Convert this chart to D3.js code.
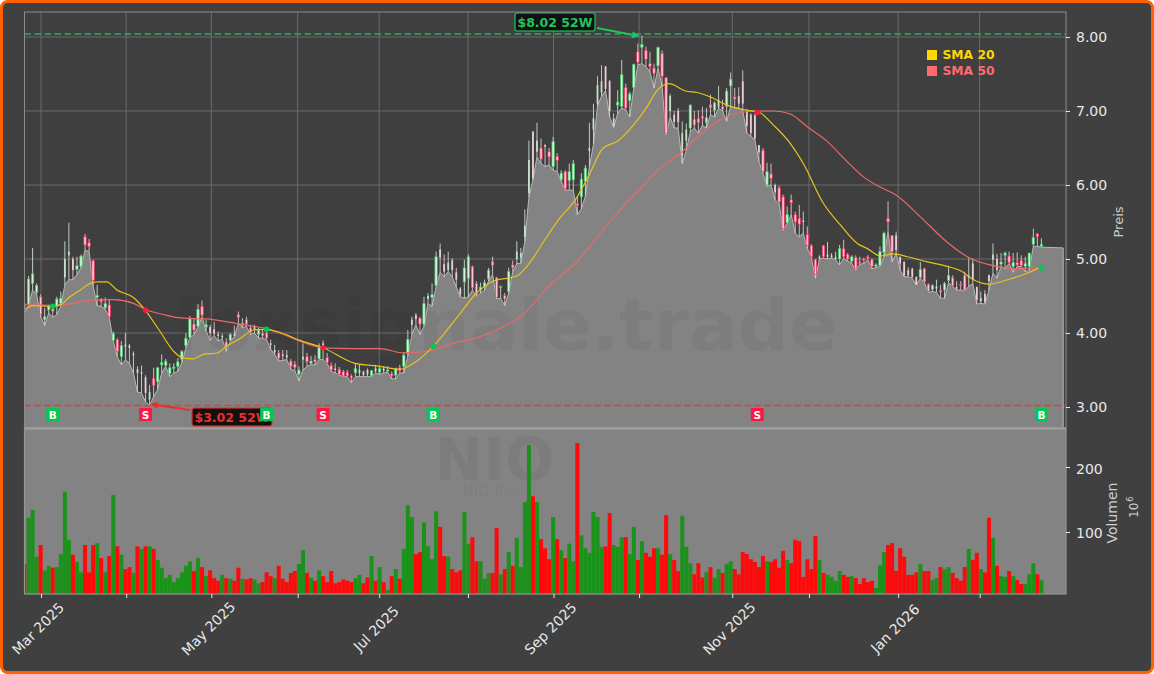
<!DOCTYPE html>
<html><head><meta charset="utf-8">
<script src="https://cdn.jsdelivr.net/npm/d3@7/dist/d3.min.js"></script>
<style>html,body{margin:0;padding:0;background:#fff}svg{display:block}text{font-family:"DejaVu Sans",sans-serif}</style>
</head><body><div id="c"></div>
<script>
const opens=[
4.40,4.39,4.67,4.55,4.49,4.18,4.31,4.36,4.36,4.40,
4.75,5.05,5.00,4.86,4.90,5.30,5.22,4.98,4.48,4.46,
4.34,4.38,3.90,3.91,3.68,3.84,3.83,3.70,3.51,3.45,
3.40,3.10,3.39,3.34,3.57,3.56,3.45,3.52,3.55,3.64,
3.83,3.94,4.12,4.09,4.36,4.08,4.08,4.05,3.98,3.94,
3.88,3.90,3.98,4.25,4.10,4.18,4.07,4.05,3.98,4.00,
4.00,3.86,3.74,3.73,3.71,3.70,3.62,3.58,3.44,3.64,
3.68,3.59,3.64,3.65,3.86,3.67,3.56,3.52,3.51,3.48,
3.47,3.42,3.46,3.46,3.48,3.50,3.42,3.52,3.47,3.52,
3.48,3.45,3.43,3.53,3.55,3.73,4.11,4.24,4.20,4.12,
4.46,4.48,4.64,5.13,4.93,4.85,4.98,4.82,4.60,4.69,
4.74,4.90,4.67,4.57,4.62,4.73,4.97,4.75,4.62,4.51,
4.56,4.92,5.00,5.02,5.30,5.89,6.72,6.45,6.50,6.54,
6.45,6.25,6.39,6.07,6.18,6.06,6.07,5.75,5.84,6.05,
6.46,6.75,7.10,7.25,7.60,7.40,6.80,7.08,7.06,7.32,
7.14,7.32,7.80,7.86,7.82,7.64,7.58,7.61,7.78,7.45,
7.00,6.95,7.00,6.40,6.60,6.77,6.89,6.90,6.93,6.84,
7.09,7.01,7.05,7.06,7.06,7.34,7.19,7.20,7.40,7.00,
6.95,6.94,6.54,6.47,6.00,6.15,6.00,5.96,5.84,5.49,
5.80,5.60,5.55,5.52,5.33,5.18,4.99,5.01,5.18,5.03,
5.02,5.00,5.00,5.14,5.06,4.97,5.02,4.96,5.00,5.03,
4.99,4.90,4.91,5.09,5.55,5.32,5.32,5.03,4.96,4.85,
4.87,4.76,4.75,4.87,4.66,4.59,4.60,4.58,4.58,4.71,
4.75,4.62,4.66,4.78,4.75,4.94,4.62,4.43,4.53,4.78,
4.99,5.00,4.93,5.05,5.04,4.90,4.95,4.98,4.90,4.90,
5.20,5.34,5.17];
const highs=[
4.45,4.77,5.15,4.67,4.52,4.34,4.38,4.39,4.49,4.56,
5.24,5.49,5.03,5.03,5.06,5.34,5.27,4.99,4.65,4.47,
4.48,4.45,4.02,3.93,3.89,4.00,3.85,3.75,3.55,3.56,
3.43,3.30,3.53,3.54,3.71,3.65,3.59,3.59,3.66,3.77,
4.00,4.23,4.20,4.39,4.44,4.18,4.11,4.15,4.02,3.99,
3.93,4.00,4.10,4.29,4.20,4.22,4.11,4.11,4.07,4.04,
4.07,3.91,3.84,3.77,3.77,3.77,3.65,3.62,3.55,3.86,
3.73,3.69,3.70,3.86,3.90,3.73,3.60,3.59,3.54,3.50,
3.50,3.44,3.59,3.58,3.49,3.52,3.50,3.57,3.54,3.55,
3.55,3.48,3.53,3.57,3.74,4.04,4.22,4.27,4.22,4.49,
4.54,4.67,5.10,5.21,5.06,5.10,5.01,4.88,4.62,4.99,
5.06,4.91,4.70,4.68,4.72,4.88,5.03,4.76,4.64,4.54,
4.88,4.98,5.24,5.15,5.67,6.60,6.73,6.84,6.63,6.55,
6.50,6.65,6.43,6.20,6.20,6.29,6.34,5.84,6.16,6.27,
6.84,7.10,7.47,7.62,7.61,7.42,6.97,7.28,7.69,7.37,
7.26,7.64,7.91,8.02,7.87,7.80,7.64,7.87,7.82,7.46,
7.23,7.00,7.04,6.86,6.83,7.09,7.00,7.01,7.06,7.04,
7.22,7.13,7.34,7.15,7.31,7.52,7.31,7.32,7.55,7.03,
6.97,6.97,6.54,6.50,6.30,6.29,6.02,5.99,5.87,5.71,
5.87,5.64,5.73,5.64,5.44,5.20,5.00,5.05,5.19,5.23,
5.08,5.10,5.19,5.26,5.08,5.05,5.05,5.03,5.02,5.05,
5.01,4.94,5.17,5.37,5.78,5.32,5.37,5.03,4.97,4.89,
4.88,4.76,4.96,4.88,4.67,4.66,4.72,4.65,4.69,4.90,
4.78,4.70,4.70,4.83,5.01,5.01,4.63,4.56,4.58,4.79,
5.21,5.07,5.08,5.10,5.10,5.08,5.09,5.05,5.03,5.08,
5.41,5.35,5.28];
const lows=[
4.27,4.37,4.58,4.52,4.22,4.10,4.27,4.21,4.25,4.36,
4.65,4.72,4.72,4.79,4.88,5.12,5.10,4.64,4.37,4.36,
4.32,4.21,3.89,3.68,3.57,3.64,3.59,3.46,3.20,3.19,
3.07,3.02,3.14,3.24,3.46,3.55,3.41,3.46,3.48,3.60,
3.80,3.93,3.98,4.08,4.22,4.03,3.90,3.97,3.89,3.92,
3.75,3.89,3.95,4.13,4.07,4.09,3.98,4.00,3.93,3.93,
3.91,3.78,3.71,3.62,3.63,3.64,3.51,3.49,3.35,3.50,
3.55,3.57,3.57,3.64,3.64,3.59,3.48,3.46,3.43,3.41,
3.41,3.33,3.41,3.41,3.41,3.41,3.41,3.46,3.44,3.46,
3.47,3.38,3.38,3.46,3.46,3.69,3.98,4.11,3.98,4.09,
4.40,4.36,4.63,4.82,4.76,4.83,4.76,4.62,4.49,4.47,
4.49,4.58,4.49,4.54,4.58,4.70,4.79,4.46,4.47,4.37,
4.54,4.83,4.94,4.94,5.24,5.84,6.07,6.38,6.29,6.25,
6.27,6.20,6.18,6.05,5.93,5.93,5.93,5.60,5.68,5.85,
6.25,6.55,7.07,7.20,7.28,6.92,6.78,6.97,7.04,7.01,
6.92,7.31,7.62,7.64,7.60,7.53,7.31,7.58,7.33,6.68,
6.92,6.77,6.77,6.29,6.47,6.72,6.77,6.70,6.81,6.77,
6.95,6.92,7.04,7.00,6.86,7.06,7.04,7.04,7.01,6.70,
6.66,6.61,6.32,6.16,5.98,6.00,5.80,5.75,5.39,5.48,
5.60,5.35,5.30,5.35,5.14,5.02,4.74,5.00,5.01,5.00,
5.01,4.99,4.92,5.01,4.97,4.94,4.85,4.93,4.94,4.99,
4.87,4.88,4.90,5.03,5.37,4.96,5.08,4.85,4.76,4.76,
4.74,4.65,4.74,4.68,4.55,4.56,4.55,4.47,4.47,4.68,
4.63,4.58,4.58,4.57,4.63,4.67,4.39,4.40,4.39,4.58,
4.81,4.74,4.90,4.87,4.94,4.82,4.90,4.90,4.83,4.85,
5.17,5.17,5.16];
const closes=[
4.35,4.73,4.80,4.64,4.25,4.22,4.36,4.29,4.46,4.47,
5.00,5.10,4.85,4.91,5.04,5.19,5.17,4.71,4.51,4.42,
4.40,4.22,3.99,3.75,3.83,3.82,3.80,3.72,3.46,3.47,
3.19,3.20,3.29,3.53,3.60,3.62,3.53,3.54,3.61,3.75,
3.93,4.19,4.04,4.32,4.24,4.11,4.00,3.99,3.96,3.96,
3.82,3.98,3.96,4.21,4.13,4.12,4.00,4.08,4.04,3.96,
3.93,3.84,3.77,3.66,3.69,3.67,3.55,3.53,3.50,3.68,
3.61,3.62,3.61,3.80,3.79,3.60,3.50,3.50,3.44,3.42,
3.42,3.39,3.52,3.50,3.43,3.44,3.49,3.48,3.52,3.49,
3.50,3.42,3.52,3.49,3.70,3.91,4.18,4.19,4.12,4.40,
4.50,4.52,5.03,5.02,4.83,4.95,4.85,4.72,4.52,4.88,
5.03,4.61,4.50,4.62,4.68,4.85,4.91,4.48,4.63,4.46,
4.83,4.88,5.10,5.08,5.45,6.34,6.09,6.60,6.35,6.52,
6.38,6.59,6.33,6.16,5.95,6.18,6.29,5.72,6.08,6.23,
6.50,6.90,7.35,7.40,7.30,7.00,6.90,7.12,7.49,7.04,
7.23,7.63,7.66,7.90,7.70,7.60,7.51,7.86,7.47,6.70,
7.20,6.85,6.85,6.70,6.75,7.08,6.81,6.84,6.90,6.91,
7.04,7.11,7.15,7.02,7.27,7.43,7.16,7.10,7.10,6.80,
6.70,6.63,6.44,6.18,6.18,6.09,5.90,5.77,5.41,5.60,
5.76,5.50,5.47,5.50,5.18,5.03,4.79,5.03,5.03,5.06,
5.05,5.03,5.14,5.03,5.00,5.03,4.87,4.94,4.98,5.01,
4.90,4.92,5.10,5.35,5.50,5.10,5.12,4.94,4.78,4.78,
4.76,4.65,4.86,4.69,4.56,4.64,4.63,4.55,4.67,4.78,
4.64,4.60,4.64,4.58,4.78,4.72,4.45,4.47,4.42,4.70,
5.06,4.85,4.96,5.08,4.95,4.95,4.92,4.91,4.94,5.08,
5.29,5.30,5.20];
const volumes=[
51,122,134,62,80,41,48,45,46,66,
162,88,65,54,38,80,38,80,83,60,
38,63,157,78,65,43,46,37,78,74,
78,78,74,57,45,29,34,23,29,38,
48,55,40,60,46,32,41,29,25,34,
29,28,25,45,28,27,29,27,21,23,
38,32,29,48,28,23,37,40,51,72,
37,30,25,41,32,23,40,21,23,27,
25,23,29,34,21,30,63,25,46,23,
11,32,43,28,74,141,123,66,69,115,
78,58,132,108,63,62,43,38,41,131,
82,92,55,55,28,37,37,106,35,43,
69,48,91,46,146,234,155,146,89,75,
58,123,89,72,60,82,55,237,95,75,
68,131,123,77,78,129,80,77,92,92,
66,108,57,86,68,62,75,75,65,126,
66,57,40,125,77,52,35,52,30,38,
46,30,43,37,51,55,43,35,69,66,
58,54,46,63,55,54,58,45,71,57,
52,88,86,31,58,43,94,57,37,34,
31,25,40,34,31,32,29,20,29,23,
25,14,49,69,80,83,40,75,62,34,
34,38,51,40,40,26,29,46,43,46,
37,29,25,46,74,57,68,43,38,122,
91,48,32,31,40,32,26,20,20,35,
52,35,26];
const paleCandles=[10,11,12,25,26,27,28,29,30,31,46,47,48,49,52,57,61,62,64,65,69,74,77,83,84,85,87,89,96,97,100,103,104,105,106,107,108,122,123,124,125,126,127,129,140,141,142,143,144,145,146,160,161,162,163,164,172,177,178,179,180,181,182,186,193,197,199,200,201,216,217,218,219,220,221,226,231,234,235,236,237,238,239,240,241];
const sma20Index=[0,2.2,6.3,8.8,11.3,13.8,16.3,18.3,20.4,22.9,27,29.9,33.6,37,39.4,41.8,44.3,47.7,50.1,53.5,56.7,59.2,62.6,68.3,74,81.9,88.1,93,96.4,101.3,107.2,111.7,116.1,122,124.5,129.2,132.3,136.5,139.7,143.4,146.9,150.9,154.3,156.8,159.8,163.8,166.7,170,174.1,179.1,181.8,185.6,189.8,193,198,202.2,206.4,208.9,212.1,215.4,218.8,223.8,228.7,232,235.2,239,243.6,248.6,251.4];
const sma20Value=[4.32,4.37,4.36,4.38,4.49,4.58,4.67,4.69,4.69,4.58,4.48,4.31,4.02,3.75,3.66,3.65,3.71,3.73,3.82,3.93,4.04,4.05,4.02,3.90,3.80,3.59,3.55,3.51,3.59,3.82,4.21,4.52,4.70,4.77,4.90,5.28,5.53,5.80,6.11,6.50,6.59,6.81,7.06,7.28,7.37,7.27,7.25,7.19,7.08,7.01,6.99,6.81,6.56,6.29,5.75,5.46,5.21,5.14,5.04,5.07,5.03,4.96,4.90,4.84,4.72,4.66,4.72,4.81,4.88];
const sma50Index=[0,3.9,8,12,16.3,22,27,30.3,34.4,39.4,45.2,50.2,56.7,60,64.2,68.3,74,81.4,88.1,93.9,100.5,106.3,113,119.6,123.6,129.5,137.7,141.4,146.9,152.6,157.5,163,167.4,172.4,176.6,181.8,185.6,189.8,193.9,198.9,203.8,207.9,212.1,215.8,222,228.6,234.3,239.3,245,251.4];
const sma50Value=[4.38,4.38,4.37,4.40,4.44,4.45,4.40,4.31,4.25,4.20,4.19,4.15,4.09,4.06,3.98,3.89,3.80,3.79,3.79,3.73,3.76,3.86,3.95,4.11,4.25,4.61,5.01,5.26,5.62,5.95,6.23,6.45,6.68,6.88,6.97,7.00,7.00,6.96,6.79,6.59,6.32,6.11,5.97,5.87,5.57,5.23,5.01,4.92,4.87,4.88];
const signalIndex=[7,30,60,74,101.3,181.6,252];
const signalPrice=[4.36,4.31,4.05,3.80,3.82,6.98,4.88];
const signalType=["B","S","B","S","B","S","B"];
const monthTickIndex=[4.1,25.2,46.3,67.7,87.9,109.9,131.1,152.3,175.4,194.4,216.5,236.7];
const monthTickLabels=["Mar 2025","","May 2025","","Jul 2025","","Sep 2025","","Nov 2025","","Jan 2026",""];
const priceTicks=[3,4,5,6,7,8];
const volumeTicks=[100,200];
const high52=8.02, low52=3.02, high52Line=8.04;
const areaTailIndex=257.4, areaTailValue=5.15;
const legendNames=["SMA 20","SMA 50"];

const W=1154,H=674;
const L=24.5,R=1066,PT=12,PB=428,VT=429,VB=594;
const x=d3.scaleLinear().domain([0,258.1]).range([L,R]);
const y=d3.scaleLinear().domain([2.716,8.338]).range([PB,PT]);
const yV=d3.scaleLinear().domain([4.6,258.5]).range([VB,VT]);
const C={bg:"#404040",gray:"#838383",up:"#1b931b",dn:"#fe0a0a",sma20:"#e6c41c",sma50:"#e86a6a",
 green:"#00c853",red:"#ff1744",txt:"#e8e8e8",grid:"#6b6b6b",frame:"#8c8c8c"};

const svg=d3.select("#c").append("svg").attr("width",W).attr("height",H).attr("viewBox",`0 0 ${W} ${H}`);
svg.append("rect").attr("x",1.5).attr("y",1.5).attr("width",W-3).attr("height",H-3).attr("rx",6)
 .attr("fill",C.bg).attr("stroke","#ff6000").attr("stroke-width",3);
const defs=svg.append("defs");
defs.append("clipPath").attr("id","cp").append("rect").attr("x",L).attr("y",PT).attr("width",R-L).attr("height",PB-PT);
defs.append("clipPath").attr("id","cv").append("rect").attr("x",L).attr("y",VT).attr("width",R-L).attr("height",VB-VT);

const paleSet=new Set(paleCandles);
const bars=d3.range(opens.length).map(i=>({i,o:opens[i],h:highs[i],l:lows[i],c:closes[i],v:volumes[i],up:closes[i]>=opens[i],pale:paleSet.has(i)}));

// price panel
svg.append("rect").attr("x",L).attr("y",PT).attr("width",R-L).attr("height",PB-PT).attr("fill","#3f3f3f");
const grid=svg.append("g").attr("stroke",C.grid).attr("stroke-width",1);
grid.selectAll(".gx").data(monthTickIndex).join("line").attr("x1",d=>x(d)).attr("x2",d=>x(d)).attr("y1",PT).attr("y2",PB);
grid.selectAll(".gy").data(priceTicks).join("line").attr("x1",L).attr("x2",R).attr("y1",d=>y(d)).attr("y2",d=>y(d));

const price=svg.append("g").attr("clip-path","url(#cp)");
const areaData=bars.map(b=>[b.i,b.l]).concat([[areaTailIndex,areaTailValue]]);
price.append("path").datum(areaData)
 .attr("d",d3.area().x(d=>x(d[0])).y0(PB+2).y1(d=>y(d[1])))
 .attr("fill",C.gray);
price.append("path").datum(areaData.concat([[areaTailIndex,2.7]]))
 .attr("d",d3.line().x(d=>x(d[0])).y(d=>y(d[1])))
 .attr("fill","none").attr("stroke","#b8b8b8").attr("stroke-width",1);
// watermark
price.append("text").attr("x",838).attr("y",350).attr("text-anchor","end")
 .attr("font-size",72).attr("font-weight","bold").attr("fill","#000").attr("fill-opacity",.04)
 .text("foxsignale.trade");
// candles
const cg=price.append("g");
cg.selectAll(".w").data(bars).join("line").attr("x1",d=>x(d.i)).attr("x2",d=>x(d.i))
 .attr("y1",d=>y(d.h)).attr("y2",d=>y(d.l))
 .attr("stroke",d=>d.up?"#c9ddcd":"#dfc9ce").attr("stroke-width",.9);
cg.selectAll(".b").data(bars).join("rect")
 .attr("x",d=>x(d.i)-(d.pale?0.9:1.2)).attr("width",d=>d.pale?1.8:2.4)
 .attr("y",d=>y(Math.max(d.o,d.c))).attr("height",d=>Math.max(1,Math.abs(y(d.o)-y(d.c))))
 .attr("fill",d=>d.pale?(d.up?"#c4e0ca":"#eccdd5"):(d.up?"#d6f0d8":"#ffc4d0"))
 .attr("stroke",d=>d.pale?"none":(d.up?"#3cc063":"#f0305f")).attr("stroke-width",.7);
// SMA
const ln=d3.line().x(d=>x(d[0])).y(d=>y(d[1])).curve(d3.curveMonotoneX);
price.append("path").attr("d",ln(sma50Index.map((d,i)=>[d,sma50Value[i]]))).attr("fill","none").attr("stroke",C.sma50).attr("stroke-width",1.2);
price.append("path").attr("d",ln(sma20Index.map((d,i)=>[d,sma20Value[i]]))).attr("fill","none").attr("stroke",C.sma20).attr("stroke-width",1.2);
// 52W lines
price.append("line").attr("x1",L).attr("x2",R).attr("y1",y(high52Line)).attr("y2",y(high52Line))
 .attr("stroke","#35a866").attr("stroke-width",1.5).attr("stroke-dasharray","6.5 3.5");
price.append("line").attr("x1",L).attr("x2",R).attr("y1",y(low52)).attr("y2",y(low52))
 .attr("stroke","#e53935").attr("stroke-opacity",.9).attr("stroke-width",1.5).attr("stroke-dasharray","6.5 3.5");
// annotations
function note(txt,idxPeak,val,bx,by,col,tailx,taily){
 const tx=x(idxPeak),ty=y(val);
 const ang=Math.atan2(ty-taily,tx-tailx),hl=8,hw=3.5;
 const sx=tx-hl*Math.cos(ang),sy=ty-hl*Math.sin(ang);
 svg.append("line").attr("x1",tailx).attr("y1",taily).attr("x2",sx).attr("y2",sy).attr("stroke",col).attr("stroke-width",2);
 svg.append("path").attr("d",`M${tx},${ty}L${sx-hw*Math.sin(ang)},${sy+hw*Math.cos(ang)}L${sx+hw*Math.sin(ang)},${sy-hw*Math.cos(ang)}Z`).attr("fill",col);
 svg.append("rect").attr("x",bx).attr("y",by).attr("width",80).attr("height",18).attr("rx",2.5)
  .attr("fill","#111").attr("stroke",col).attr("stroke-opacity",.75).attr("stroke-width",1.6);
 svg.append("text").attr("x",bx+40).attr("y",by+13.5).attr("text-anchor","middle").attr("font-size",12.5).attr("font-weight","bold")
  .attr("fill",col).text(txt);
}
note("$8.02 52W",152.5,high52-.01,515,13,"#1fc45f",597,28);
note("$3.02 52W",31,low52+.02,192,408,"#e8302c",190,410);
// signals
const sig=svg.append("g");
signalIndex.forEach((d,k)=>{
 const col=signalType[k]==="B"?C.green:C.red, cx=x(d);
 price.append("circle").attr("cx",cx).attr("cy",y(signalPrice[k])).attr("r",2.8).attr("fill",col);
 sig.append("rect").attr("x",cx-6.5).attr("y",408).attr("width",13).attr("height",13).attr("rx",1).attr("fill",col);
 sig.append("text").attr("x",cx).attr("y",418.5).attr("text-anchor","middle").attr("font-size",10.5).attr("font-weight","bold").attr("fill","#fff").text(signalType[k]);
});
// legend
["#ffd700","#ff6b6b"].forEach((col,k)=>{
 svg.append("rect").attr("x",927).attr("y",50+k*16).attr("width",10).attr("height",10).attr("fill",col);
 svg.append("text").attr("x",942.5).attr("y",58.5+k*16).attr("font-size",12.3).attr("font-weight","bold").attr("fill",col).text(legendNames[k]);
});
svg.append("rect").attr("x",L).attr("y",PT).attr("width",R-L).attr("height",PB-PT).attr("fill","none").attr("stroke",C.frame).attr("stroke-width",1);

// volume panel
svg.append("rect").attr("x",L).attr("y",VT).attr("width",R-L).attr("height",VB-VT).attr("fill",C.gray);
const vg=svg.append("g").attr("clip-path","url(#cv)");
vg.append("text").attr("x",494.5).attr("y",480).attr("text-anchor","middle").attr("font-size",58).attr("font-weight","bold").attr("fill","#000").attr("fill-opacity",.05).text("NIO");
vg.append("text").attr("x",492).attr("y",496).attr("text-anchor","middle").attr("font-size",15).attr("fill","#000").attr("fill-opacity",.05).text("NIO Inc.");
vg.selectAll(".v").data(bars).join("rect").attr("x",d=>x(d.i)-2).attr("width",4.035)
 .attr("y",d=>yV(d.v)).attr("height",d=>VB-yV(d.v)).attr("fill",d=>d.up?C.up:C.dn);
svg.append("rect").attr("x",L).attr("y",VT).attr("width",R-L).attr("height",VB-VT).attr("fill","none").attr("stroke","#969696").attr("stroke-width",1.2);
svg.append("line").attr("x1",L).attr("x2",R).attr("y1",428.3).attr("y2",428.3).attr("stroke","#a0a0a0").attr("stroke-width",2);

// axes
const axisStyle=g=>{g.select(".domain").remove();g.selectAll("line").attr("stroke",C.txt);g.selectAll("text").attr("fill",C.txt).style("font-family",'"DejaVu Sans"');};
svg.append("g").attr("transform",`translate(${R},0)`)
 .call(d3.axisRight(y).tickValues(priceTicks).tickFormat(d3.format(".2f")).tickSize(4).tickPadding(6))
 .attr("font-size",14).call(axisStyle);
const va=svg.append("g").attr("transform",`translate(${R},0)`)
 .call(d3.axisRight(yV).tickValues(volumeTicks).tickFormat(d3.format("d")).tickSize(4).tickPadding(6))
 .attr("font-size",14).call(axisStyle);
va.selectAll("text").attr("y",1.5);
const xa=svg.append("g").attr("transform",`translate(0,${VB})`)
 .call(d3.axisBottom(x).tickValues(monthTickIndex).tickFormat((d,i)=>monthTickLabels[i]).tickSize(4))
 .attr("font-size",14).call(axisStyle);
xa.selectAll("text").attr("text-anchor","middle").attr("dy",0).attr("y",0)
 .attr("transform","translate(0,38) rotate(-45)");
svg.append("text").attr("transform","translate(1123,222) rotate(-90)").attr("text-anchor","middle").attr("font-size",13).attr("fill","#cfcfcf").text("Preis");
svg.append("text").attr("transform","translate(1117,513) rotate(-90)").attr("text-anchor","middle").attr("font-size",14).attr("fill","#cfcfcf").text("Volumen");
const e=svg.append("text").attr("transform","translate(1138,518) rotate(-90)").attr("font-size",12).attr("fill","#cfcfcf");
e.append("tspan").text("10");
e.append("tspan").attr("dy",-5).attr("dx",1).attr("font-size",8.5).text("6");
</script></body></html>
